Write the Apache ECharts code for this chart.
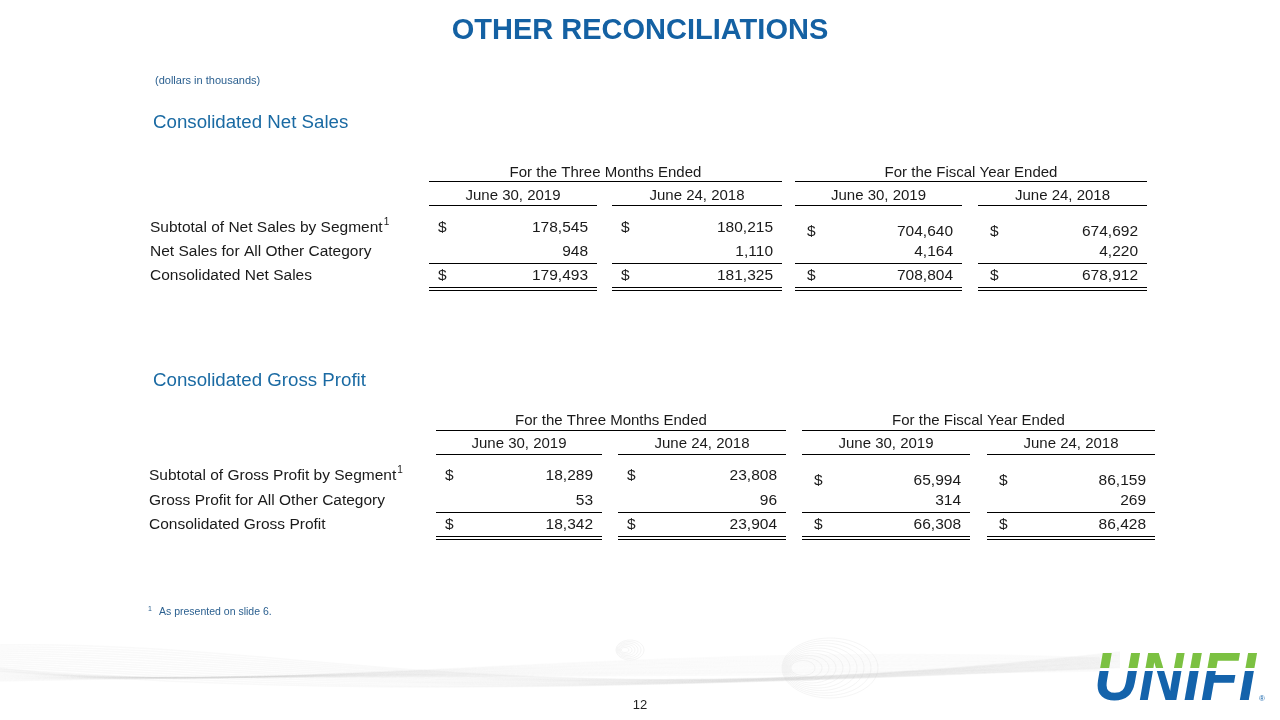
<!DOCTYPE html>
<html>
<head>
<meta charset="utf-8">
<script src="https://cdn.jsdelivr.net/npm/echarts@6/dist/echarts.min.js"></script>
<style>
  html, body { margin: 0; padding: 0; background: #fff; }
  #main { width: 1280px; height: 720px; }
</style>
</head>
<body>
<div id="main"></div>
<script>
// ---- data ----
const groupHeaders = ['For the Three Months Ended', 'For the Fiscal Year Ended']
const periodLabels = ['June 30, 2019', 'June 24, 2018', 'June 30, 2019', 'June 24, 2018']

const salesRows = ['Subtotal of Net Sales by Segment', 'Net Sales for All Other Category', 'Consolidated Net Sales']
const salesSubtotal = [178545, 180215, 704640, 674692]
const salesOther = [948, 1110, 4164, 4220]
const salesTotal = [179493, 181325, 708804, 678912]

const profitRows = ['Subtotal of Gross Profit by Segment', 'Gross Profit for All Other Category', 'Consolidated Gross Profit']
const profitSubtotal = [18289, 23808, 65994, 86159]
const profitOther = [53, 96, 314, 269]
const profitTotal = [18342, 23904, 66308, 86428]

// ---- layout ----
const FONT = '"Liberation Sans", Arial, sans-serif'
const BLUE = '#1461a3'
const TEXT = '#1a1a1a'
const ROW_FONT = '15.5px ' + FONT
const HEAD_FONT = '15px ' + FONT

const salesLayout = {
  title: 'Consolidated Net Sales', titleY: 123,
  group: 173, groupLine: 181, head: 196, headLine: 205,
  rows: [228, 252, 276], fyShift: 4, subLine: 263, dbl: [287, 290],
  labelX: 150,
  colL: [429, 612, 795, 978], colR: [597, 782, 962, 1147]
}
const profitLayout = {
  title: 'Consolidated Gross Profit', titleY: 381,
  group: 421, groupLine: 430, head: 444, headLine: 454,
  rows: [476, 501, 525], fyShift: 5, subLine: 512, dbl: [536, 539],
  labelX: 149,
  colL: [436, 618, 802, 987], colR: [602, 786, 970, 1155]
}

const measureCtx = document.createElement('canvas').getContext('2d')
const textWidth = (s, font) => { measureCtx.font = font; return measureCtx.measureText(s).width }

const fmt = v => v.toLocaleString('en-US')

const txt = (s, x, y, opts = {}) => ({
  type: 'text',
  silent: true,
  style: {
    text: s, x: x, y: y,
    fill: opts.fill || TEXT,
    font: opts.font || ROW_FONT,
    align: opts.align || 'left', textAlign: opts.align || 'left',
    verticalAlign: 'middle', textVerticalAlign: 'middle'
  }
})
const hline = (x1, x2, y, color, w) => ({
  type: 'line', silent: true,
  shape: { x1: x1, y1: y + 0.5, x2: x2, y2: y + 0.5 },
  style: { stroke: color || '#000', lineWidth: w || 1 }
})

// builds one reconciliation table
const buildTable = (L, labels, rowValues) => {
  const els = []
  els.push(txt(L.title, 153, L.titleY, { fill: '#1a6aa3', font: '18.7px ' + FONT }))

  // group headers
  for (let g = 0; g < 2; g++) {
    const x1 = L.colL[g * 2], x2 = L.colR[g * 2 + 1]
    els.push(txt(groupHeaders[g], (x1 + x2) / 2, L.group, { align: 'center', font: HEAD_FONT }))
    els.push(hline(x1, x2, L.groupLine))
  }
  // period headers
  for (let c = 0; c < 4; c++) {
    els.push(txt(periodLabels[c], (L.colL[c] + L.colR[c]) / 2, L.head, { align: 'center', font: HEAD_FONT }))
    els.push(hline(L.colL[c], L.colR[c], L.headLine))
  }
  // rows
  labels.forEach((lab, r) => {
    els.push(txt(lab, L.labelX, L.rows[r]))
    if (r === 0) {
      const w = textWidth(lab, ROW_FONT)
      els.push(txt('1', L.labelX + w + 1, L.rows[r] - 6, { font: '10px ' + FONT }))
    }
    for (let c = 0; c < 4; c++) {
      const y = L.rows[r] + (r === 0 && c >= 2 ? L.fyShift : 0)
      if (r !== 1) els.push(txt('$', L.colL[c] + (c >= 2 ? 12 : 9), y))
      els.push(txt(fmt(rowValues[r][c]), L.colR[c] - 9, y, { align: 'right' }))
    }
  })
  // underlines
  for (let c = 0; c < 4; c++) {
    els.push(hline(L.colL[c], L.colR[c], L.subLine))
    els.push(hline(L.colL[c], L.colR[c], L.dbl[0]))
    els.push(hline(L.colL[c], L.colR[c], L.dbl[1]))
  }
  return els
}

// faint decorative swoosh along the bottom
const swoosh = () => {
  const els = []
  for (let i = 0; i < 14; i++) {
    els.push({
      type: 'bezierCurve', silent: true,
      shape: {
        x1: 0, y1: 645 + i * 2,
        cpx1: 300, cpy1: 640 + i * 4,
        cpx2: 520, cpy2: 720 - i * 2,
        x2: 1120, y2: 652 + i * 1.2
      },
      style: { stroke: 'rgba(200,200,200,0.10)', lineWidth: 1.5, fill: null }
    })
    els.push({
      type: 'bezierCurve', silent: true,
      shape: {
        x1: 0, y1: 668 + i,
        cpx1: 260, cpy1: 700 - i * 2,
        cpx2: 600, cpy2: 640 + i * 3,
        x2: 1100, y2: 658 + i
      },
      style: { stroke: 'rgba(200,200,200,0.08)', lineWidth: 1.5, fill: null }
    })
  }
  for (let i = 0; i < 10; i++) {
    els.push({
      type: 'ellipse', silent: true,
      shape: { cx: 830 - i * 3, cy: 668, rx: 48 - i * 4, ry: 30 - i * 2.5 },
      style: { stroke: 'rgba(205,205,205,0.2)', lineWidth: 1, fill: null }
    })
  }
  for (let i = 0; i < 6; i++) {
    els.push({
      type: 'ellipse', silent: true,
      shape: { cx: 630 - i, cy: 650, rx: 14 - i * 2, ry: 10 - i * 1.5 },
      style: { stroke: 'rgba(205,205,205,0.2)', lineWidth: 1, fill: null }
    })
  }
  return els
}

// UNIFI logo drawn on an offscreen canvas (green top, blue bottom)
const logoImage = () => {
  const cv = document.createElement('canvas')
  cv.width = 170; cv.height = 56
  const ctx = cv.getContext('2d')
  ctx.font = 'italic bold 68px "Liberation Sans", Arial, sans-serif'
  ctx.textBaseline = 'alphabetic'
  const w = ctx.measureText('UNIFI').width
  ctx.save()
  ctx.scale(162 / w, 1)
  ctx.save()
  ctx.beginPath(); ctx.rect(0, 0, 400, 22); ctx.clip()
  ctx.fillStyle = '#7cc142'
  ctx.fillText('UNIFI', 0, 54)
  ctx.restore()
  ctx.save()
  ctx.beginPath(); ctx.rect(0, 25, 400, 40); ctx.clip()
  ctx.fillStyle = '#1463ab'
  ctx.fillText('UNIFI', 0, 54)
  ctx.restore()
  ctx.restore()
  return cv.toDataURL()
}

const elements = [].concat(
  swoosh(),
  [
    txt('OTHER RECONCILIATIONS', 640, 31, { align: 'center', fill: BLUE, font: 'bold 29px ' + FONT }),
    txt('(dollars in thousands)', 155, 81, { fill: '#2a5f8f', font: '11px ' + FONT })
  ],
  buildTable(salesLayout, salesRows, [salesSubtotal, salesOther, salesTotal]),
  buildTable(profitLayout, profitRows, [profitSubtotal, profitOther, profitTotal]),
  [
    txt('1', 148, 609, { fill: '#2a5f8f', font: '7px ' + FONT }),
    txt('As presented on slide 6.', 159, 612, { fill: '#2a5f8f', font: '10.5px ' + FONT }),
    txt('12', 640, 705, { align: 'center', fill: '#222', font: '13px ' + FONT }),
    {
      type: 'image', silent: true,
      style: { image: logoImage(), x: 1094, y: 646, width: 170, height: 56 }
    },
    txt('®', 1259, 699, { font: '8px ' + FONT, fill: '#1463ab' })
  ]
)

const chart = echarts.init(document.getElementById('main'), null, { renderer: 'canvas' })
chart.setOption({
  backgroundColor: '#ffffff',
  animation: false,
  graphic: { elements: elements }
})
</script>
</body>
</html>
